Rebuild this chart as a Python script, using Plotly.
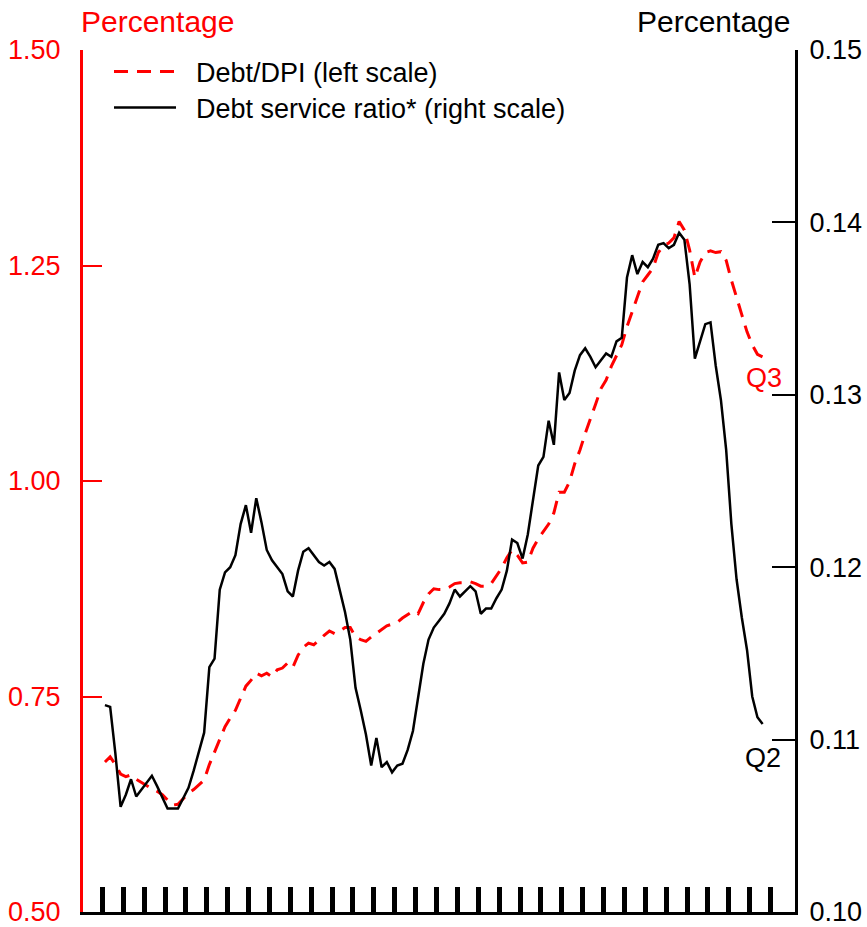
import pandas as pd
import plotly.graph_objects as go

# Quarterly periods, 1980Q1 - 2011Q3
quarters = pd.period_range("1980Q1", "2011Q3", freq="Q")
dates = [(p.start_time + (p.end_time - p.start_time) / 2).strftime("%Y-%m-%d") for p in quarters]

# Household debt / disposable personal income (left scale)
debt_dpi = [
    0.674, 0.680, 0.671, 0.660, 0.657, 0.659, 0.654, 0.650, 0.646, 0.643,
    0.640, 0.636, 0.630, 0.624, 0.625, 0.632, 0.638, 0.642, 0.647, 0.653,
    0.671, 0.686, 0.700, 0.715, 0.725, 0.734, 0.748, 0.762, 0.769, 0.777,
    0.774, 0.777, 0.773, 0.781, 0.783, 0.789, 0.784, 0.798, 0.807, 0.812,
    0.810, 0.816, 0.821, 0.826, 0.823, 0.826, 0.830, 0.830, 0.819, 0.816,
    0.814, 0.819, 0.823, 0.827, 0.832, 0.834, 0.836, 0.841, 0.845, 0.849,
    0.846, 0.859, 0.869, 0.875, 0.874, 0.874, 0.877, 0.881, 0.882, 0.882,
    0.883, 0.881, 0.878, 0.878, 0.881, 0.890, 0.899, 0.911, 0.920, 0.914,
    0.905, 0.906, 0.922, 0.933, 0.942, 0.950, 0.963, 0.987, 0.987, 0.999,
    1.020, 1.036, 1.055, 1.071, 1.089, 1.107, 1.117, 1.133, 1.145, 1.158,
    1.179, 1.196, 1.215, 1.231, 1.239, 1.247, 1.265, 1.273, 1.276, 1.282,
    1.301, 1.291, 1.268, 1.236, 1.254, 1.265, 1.267, 1.265, 1.266, 1.256,
    1.233, 1.212, 1.193, 1.173, 1.158, 1.147, 1.144,
]

# Debt service ratio (right scale)
dsr = [
    0.1120, 0.1119, 0.1092, 0.1061, 0.1068, 0.1077, 0.1067, 0.1071, 0.1075, 0.1079,
    0.1073, 0.1066, 0.1060, 0.1060, 0.1060, 0.1066, 0.1072, 0.1082, 0.1093, 0.1104,
    0.1142, 0.1147, 0.1187, 0.1197, 0.1200, 0.1207, 0.1225, 0.1236, 0.1220, 0.1240,
    0.1226, 0.1210, 0.1204, 0.1200, 0.1196, 0.1186, 0.1183, 0.1198, 0.1209, 0.1211,
    0.1207, 0.1203, 0.1201, 0.1203, 0.1199, 0.1187, 0.1174, 0.1158, 0.1130, 0.1117,
    0.1103, 0.1085, 0.1101, 0.1084, 0.1087, 0.1081, 0.1085, 0.1086, 0.1094, 0.1105,
    0.1125, 0.1144, 0.1158, 0.1165, 0.1169, 0.1173, 0.1179, 0.1187, 0.1183, 0.1186,
    0.1189, 0.1186, 0.1173, 0.1176, 0.1176, 0.1182, 0.1187, 0.1198, 0.1216, 0.1214,
    0.1205, 0.1219, 0.1239, 0.1259, 0.1264, 0.1285, 0.1271, 0.1313, 0.1297, 0.1301,
    0.1314, 0.1323, 0.1327, 0.1322, 0.1316, 0.1320, 0.1324, 0.1322, 0.1331, 0.1333,
    0.1368, 0.1381, 0.1370, 0.1377, 0.1374, 0.1379, 0.1387, 0.1388, 0.1385, 0.1387,
    0.1394, 0.1390, 0.1364, 0.1321, 0.1331, 0.1341, 0.1342, 0.1317, 0.1297, 0.1268,
    0.1225, 0.1193, 0.1171, 0.1152, 0.1125, 0.1113, 0.1109,
]

left_ticks = [0.50, 0.75, 1.00, 1.25, 1.50]
right_ticks = [0.10, 0.11, 0.12, 0.13, 0.14, 0.15]
year_ticks = [f"{y}-01-01" for y in range(1980, 2013)]

RED = "#FF0000"
FONT = "Liberation Sans, Arial, sans-serif"
PAD = "\u00a0\u00a0"

fig = go.Figure()
fig.add_trace(go.Scatter(
    x=dates, y=debt_dpi, mode="lines", name=PAD + "Debt/DPI (left scale)",
    line=dict(color=RED, width=3, dash="14px,9px"), yaxis="y", legend="legend",
))
fig.add_trace(go.Scatter(
    x=dates, y=dsr, mode="lines", name=PAD + "Debt service ratio* (right scale)",
    line=dict(color="black", width=2.5), yaxis="y2", legend="legend2",
))

legend_common = dict(
    xanchor="left", yanchor="middle",
    bgcolor="rgba(0,0,0,0)", borderwidth=0,
    itemwidth=62, font=dict(size=27),
)

fig.update_layout(
    width=867, height=927,
    margin=dict(l=83, r=72, t=50, b=15),
    paper_bgcolor="white", plot_bgcolor="white",
    font=dict(family=FONT, size=27, color="black"),
    showlegend=True,
    legend=dict(x=(109 - 83) / 712, y=(912 - 72) / 862, **legend_common),
    legend2=dict(x=(109 - 83) / 712, y=(912 - 108) / 862, **legend_common),
    xaxis=dict(
        type="date", range=["1979-01-27", "2013-03-03"],
        tickvals=year_ticks, showticklabels=False,
        ticks="inside", ticklen=25, tickwidth=5, tickcolor="black",
        showline=True, linecolor="black", linewidth=3,
        showgrid=False, zeroline=False, automargin=False,
    ),
    yaxis=dict(
        range=[0.5, 1.5], tickvals=left_ticks, tickformat=".2f",
        ticks="inside", ticklen=19, tickwidth=2, tickcolor=RED,
        tickfont=dict(color=RED, size=27), ticklabeloverflow="allow",
        showline=True, linecolor=RED, linewidth=3,
        showgrid=False, zeroline=False, ticklabelstandoff=14, automargin=False,
    ),
    yaxis2=dict(
        range=[0.10, 0.15], tickvals=right_ticks, tickformat=".2f",
        overlaying="y", side="right",
        ticks="inside", ticklen=23, tickwidth=2, tickcolor="black",
        tickfont=dict(color="black", size=27), ticklabeloverflow="allow",
        showline=True, linecolor="black", linewidth=3,
        showgrid=False, zeroline=False, ticklabelstandoff=6, automargin=False,
    ),
    annotations=[
        dict(text="Percentage", xref="paper", yref="paper", x=-0.006, y=1.0325,
             xanchor="left", yanchor="middle", showarrow=False,
             font=dict(color=RED, size=30)),
        dict(text="Percentage", xref="paper", yref="paper", x=0.996, y=1.0325,
             xanchor="right", yanchor="middle", showarrow=False,
             font=dict(color="black", size=30)),
        dict(text="Q3", xref="paper", yref="paper", x=0.956, y=0.6195,
             xanchor="center", yanchor="middle", showarrow=False,
             font=dict(color=RED, size=27)),
        dict(text="Q2", xref="paper", yref="paper", x=0.955, y=0.1787,
             xanchor="center", yanchor="middle", showarrow=False,
             font=dict(color="black", size=27)),
    ],
)

fig.write_html(
    "out.html",
    config={"displayModeBar": False},
    post_script="document.body.style.margin='0';document.body.style.padding='0';",
)
